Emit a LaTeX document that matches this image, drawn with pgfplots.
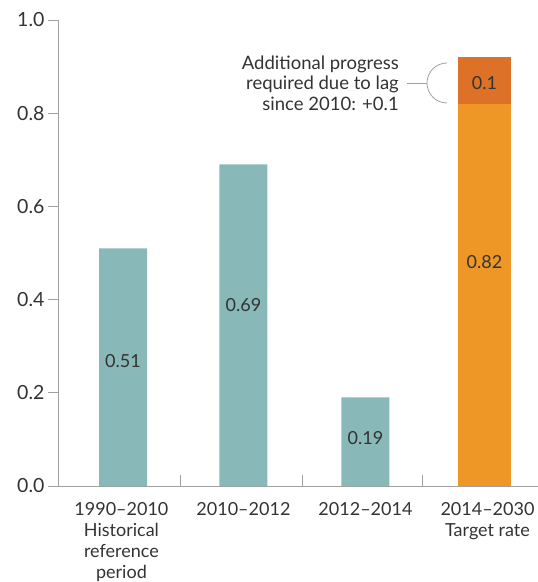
\documentclass[border=0pt]{standalone}
\usepackage{fontspec}
\setmainfont{Lato}
\usepackage{pgfplots}
\pgfplotsset{compat=1.18}
\definecolor{tealbar}{HTML}{88B8B7}
\definecolor{orangebar}{HTML}{EE9726}
\definecolor{darkorange}{HTML}{DD7127}
\definecolor{axisgray}{HTML}{A0A0A0}
\definecolor{txt}{HTML}{333333}
\begin{document}
\begin{tikzpicture}[x=1pt,y=1pt]
\begin{axis}[
  scale only axis,
  width=480pt, height=466pt,
  xmin=-0.52, xmax=3.414,
  ymin=0, ymax=1.0,
  axis x line=bottom, axis y line=left,
  axis line style={-, draw=axisgray, line width=0.8pt},
  ytick={0,0.2,0.4,0.6,0.8,1.0},
  yticklabel style={/pgf/number format/fixed, /pgf/number format/fixed zerofill, /pgf/number format/precision=1, /pgf/number format/assume math mode=true, font=\fontsize{19.5}{22}\selectfont, text=txt},
  ytick style={draw=axisgray, line width=0.8pt},
  tick align=outside,
  major tick length=10pt,
  xtick={0,1,2,3},
  xticklabels={{1990--2010\\Historical\\reference\\period},{2010--2012},{2012--2014},{2014--2030\\Target rate}},
  x tick style={draw=none},
  xticklabel style={align=center, anchor=north, font=\fontsize{18}{21}\selectfont, text=txt, yshift=-3pt},
  extra x ticks={0.48,1.48,2.47},
  extra x tick labels={},
  extra x tick style={tick align=inside, major tick length=11pt, x tick style={draw=axisgray, line width=0.8pt}},
  clip=false,
]
\addplot[ybar, bar shift=0pt, bar width=48pt, fill=tealbar, draw=none] coordinates {(0.013,0.51) (1.0,0.69) (2.0,0.19)};
\addplot[ybar, bar shift=0pt, bar width=53pt, fill=darkorange, draw=none] coordinates {(2.975,0.92)};
\addplot[ybar, bar shift=0pt, bar width=53pt, fill=orangebar, draw=none] coordinates {(2.975,0.82)};
\node[font=\fontsize{18}{20}\selectfont, text=txt] at (axis cs:0.013,0.268) {0.51};
\node[font=\fontsize{18}{20}\selectfont, text=txt] at (axis cs:1.0,0.388) {0.69};
\node[font=\fontsize{18}{20}\selectfont, text=txt] at (axis cs:2.0,0.103) {0.19};
\node[font=\fontsize{18}{20}\selectfont, text=txt] at (axis cs:2.975,0.481) {0.82};
\node[font=\fontsize{18}{20}\selectfont, text=txt] at (axis cs:2.975,0.865) {0.1};
\end{axis}
\node[anchor=east, align=right, inner sep=0pt, font=\fontsize{18.5}{20.5}\selectfont, text=txt] at (341,403) {Additional progress\\required due to lag\\since 2010: +0.1};
\draw[axisgray, line width=0.8pt] (349,403) -- (369,403);
\draw[axisgray, line width=0.8pt] (389,423) arc[start angle=90, end angle=270, radius=20];
\pgfresetboundingbox
\path (-58,-96) rectangle (480,486);
\end{tikzpicture}
\end{document}
